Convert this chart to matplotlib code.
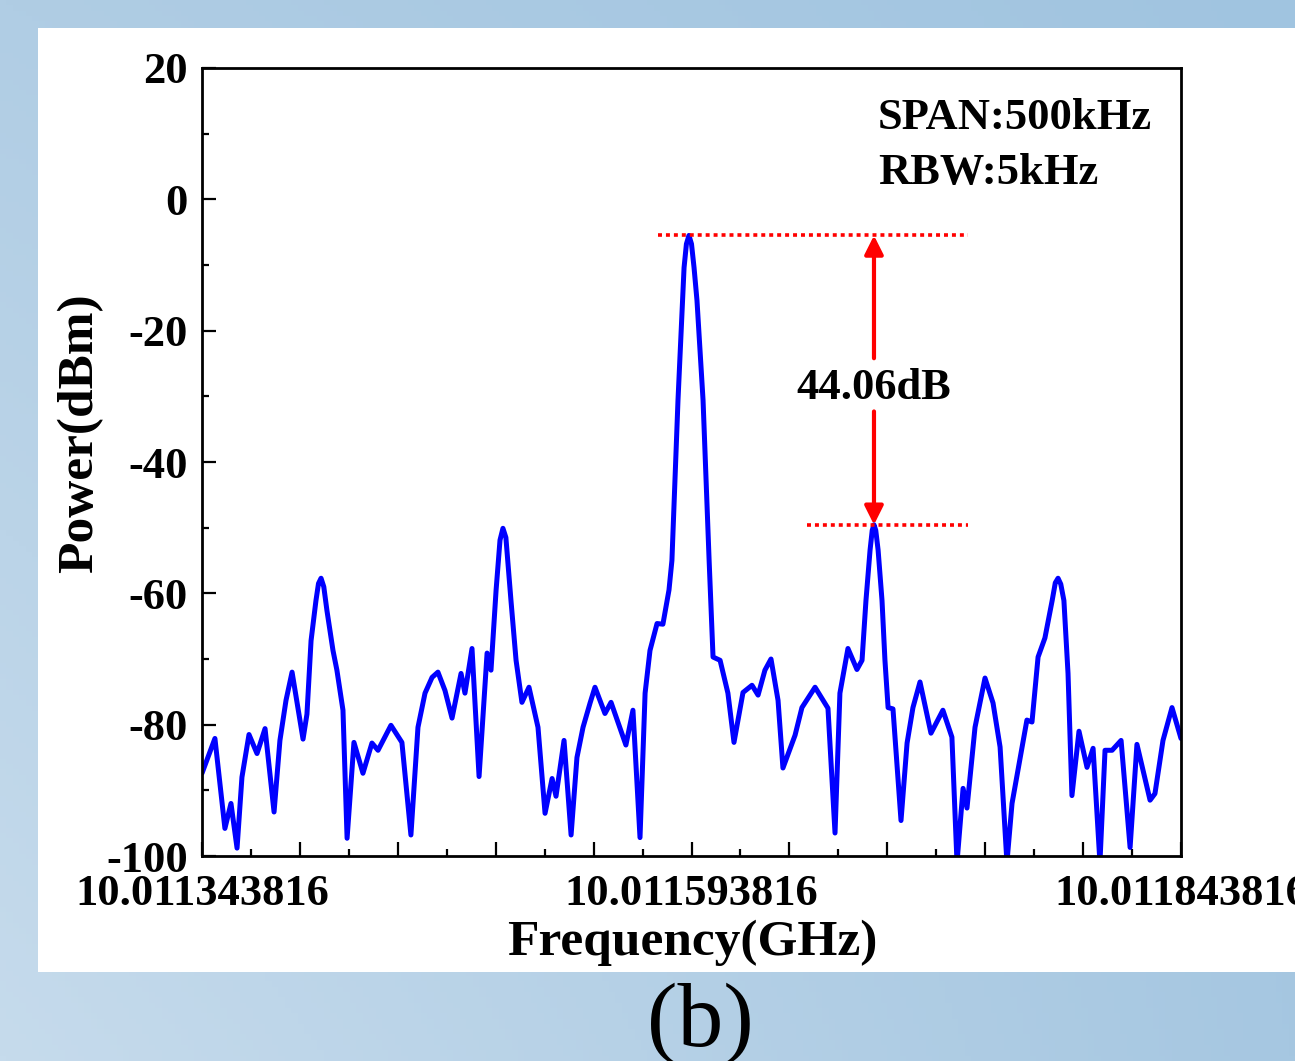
import numpy as np
import matplotlib
matplotlib.use("Agg")
import matplotlib.pyplot as plt
from matplotlib.patches import Rectangle
from matplotlib.ticker import MultipleLocator, FuncFormatter

# ---------------- data ----------------
f_start_ghz = 10.011343816
span_khz = 500.0
freq_offset_khz = [
    0.0, 6.6, 11.7, 14.8, 17.9, 20.4, 24.0, 28.1, 32.2, 36.8, 39.8, 42.9, 46.0,
    51.6, 53.6, 55.7, 58.2, 59.5, 60.8, 62.2, 63.8, 66.9, 68.9, 72.0, 74.1, 77.6,
    82.2, 86.8, 89.9, 96.5, 102.1, 106.7, 110.3, 113.9, 117.5, 120.5, 124.1, 127.7,
    132.3, 134.3, 137.9, 141.5, 145.6, 147.6, 150.2, 152.2, 153.7, 155.2, 157.8,
    160.4, 163.4, 167.0, 171.6, 175.2, 178.8, 180.8, 184.9, 188.5, 191.5, 194.6,
    198.2, 200.7, 205.8, 208.9, 216.5, 220.1, 223.7, 226.3, 228.8, 232.4, 235.4,
    238.5, 240.0, 243.1, 246.2, 247.4, 248.7, 250.0, 251.3, 252.8, 255.9, 259.0,
    261.0, 264.6, 268.6, 271.7, 276.3, 280.9, 284.0, 287.5, 290.6, 294.2, 296.7,
    302.9, 306.4, 313.1, 319.7, 323.3, 325.8, 329.9, 334.5, 337.1, 339.1, 341.2,
    342.3, 343.2, 344.1, 345.3, 347.3, 348.8, 350.4, 352.9, 357.0, 360.1, 363.1,
    366.7, 372.3, 378.4, 383.0, 385.6, 388.7, 390.7, 394.8, 399.9, 404.0, 407.6,
    411.1, 413.7, 421.3, 423.9, 427.0, 430.5, 434.2, 435.8, 437.2, 438.6, 440.2,
    442.3, 444.3, 447.9, 452.0, 455.1, 458.6, 461.2, 464.8, 469.4, 474.0, 477.5,
    484.2, 486.7, 490.8, 495.4, 500.0,
]
power_dbm = [
    -87.4, -82.1, -95.8, -92.0, -98.8, -88.0, -81.5, -84.4, -80.6, -93.3, -82.4, -76.3, -72.0,
    -82.2, -78.4, -67.2, -61.1, -58.5, -57.7, -59.0, -62.6, -68.7, -71.7, -77.8, -97.3, -82.7,
    -87.4, -82.8, -83.9, -80.1, -82.7, -96.8, -80.4, -75.2, -72.8, -72.0, -74.8, -79.0,
    -72.2, -75.2, -68.4, -87.9, -69.1, -71.7, -59.5, -51.9, -50.1, -51.5, -61.1,
    -70.2, -76.6, -74.3, -80.4, -93.5, -88.2, -90.9, -82.4, -96.8, -85.0, -80.4,
    -76.7, -74.3, -78.3, -76.6, -83.1, -77.8, -97.2, -75.2, -68.7, -64.6, -64.7,
    -59.5, -55.0, -30.6, -10.4, -6.8, -5.5, -6.8, -10.4, -15.4, -30.6, -55.0,
    -69.7, -70.2, -75.2, -82.7, -75.1, -74.0, -75.5, -71.7, -70.0, -76.3, -86.6,
    -81.6, -77.4, -74.3, -77.5, -96.5, -75.2, -68.4, -71.6, -70.2, -61.1, -53.4,
    -50.4, -49.56, -50.4, -53.4, -61.1, -70.2, -77.4, -77.6, -94.6, -82.8, -77.4,
    -73.5, -81.3, -77.8, -81.9, -101.0, -89.7, -92.7, -80.4, -72.9, -76.7, -83.4,
    -101.0, -92.0, -79.3, -79.6, -69.7, -66.8, -61.1, -58.4, -57.7, -58.6, -61.1,
    -72.2, -90.8, -81.0, -86.5, -83.6, -101.0, -83.9, -83.9, -82.4, -98.7, -83.0,
    -91.5, -90.5, -82.4, -77.4, -82.1,
]
xtick_label_offsets_khz = [0, 250, 500]
yticks = [-100, -80, -60, -40, -20, 0, 20]
info_lines = ["SPAN:500kHz", "RBW:5kHz"]

# ---------------- style ----------------
plt.rcParams["font.family"] = ["Liberation Serif", "DejaVu Serif"]
plt.rcParams["font.weight"] = "bold"

W, H = 1295, 1061
fig = plt.figure(figsize=(W / 100, H / 100), dpi=100)

# background gradient + white panel
bg = fig.add_axes([0, 0, 1, 1], zorder=0)
tl = np.array([176, 205, 228]) / 255
tr = np.array([160, 196, 224]) / 255
bl = np.array([198, 219, 236]) / 255
br = np.array([166, 199, 225]) / 255
u = np.linspace(0, 1, 200)[None, :, None]
v = np.linspace(0, 1, 200)[:, None, None]
grad = (1 - v) * ((1 - u) * tl + u * tr) + v * ((1 - u) * bl + u * br)
bg.imshow(grad, aspect="auto", extent=[0, 1, 0, 1], origin="upper")
bg.add_patch(Rectangle((38 / W, 1 - 972 / H), (W - 38) / W, (972 - 28) / H,
                       transform=bg.transAxes, facecolor="white", edgecolor="none"))
bg.set_xlim(0, 1)
bg.set_ylim(0, 1)
bg.axis("off")

ax = fig.add_axes([202 / W, 1 - 856 / H, (1181 - 202) / W, (856 - 68) / H], zorder=1)
ax.set_facecolor("white")

ax.plot(freq_offset_khz, power_dbm, color="#0000ff", lw=3.6,
        solid_joinstyle="round", solid_capstyle="round")

ax.set_xlim(0, span_khz)
ax.set_ylim(-100, 20)

ax.xaxis.set_major_locator(MultipleLocator(50))
ax.xaxis.set_minor_locator(MultipleLocator(25))
ax.yaxis.set_minor_locator(MultipleLocator(10))

def xfmt(x, pos):
    if any(abs(x - o) < 1e-6 for o in xtick_label_offsets_khz):
        return f"{f_start_ghz + x * 1e-6:.9f}"
    return ""

ax.xaxis.set_major_formatter(FuncFormatter(xfmt))
ax.set_yticks(yticks)
ax.set_yticklabels([str(t) for t in yticks])

ax.tick_params(axis="both", which="major", direction="in", length=10, width=1.6,
               labelsize=32, top=False, right=False)
ax.tick_params(axis="both", which="minor", direction="in", length=5, width=1.6,
               top=False, right=False)
ax.tick_params(axis="x", which="major", pad=13)
ax.tick_params(axis="y", which="major", pad=10)
for lab in ax.get_xticklabels() + ax.get_yticklabels():
    lab.set_fontweight("bold")
for sp in ax.spines.values():
    sp.set_linewidth(2.0)
    sp.set_color("black")

fig.text(80 / W, 1 - 433 / H, "Power(dBm)", rotation=90, ha="center", va="center",
         fontsize=37, fontweight="bold")
fig.text(692 / W, 1 - 943 / H, "Frequency(GHz)", ha="center", va="center",
         fontsize=37, fontweight="bold")
fig.text(700 / W, 1 - 1024 / H, "(b)", ha="center", va="center",
         fontsize=66, fontweight="normal")

# info text
ax.text((878 - 202) / 979, (856 - 118) / 788, info_lines[0],
        transform=ax.transAxes, ha="left", va="center", fontsize=32, fontweight="bold")
ax.text((878 - 202) / 979, (856 - 173) / 788, info_lines[1],
        transform=ax.transAxes, ha="left", va="center", fontsize=32, fontweight="bold")

# annotation: carrier vs sideband
p = np.array(power_dbm)
f = np.array(freq_offset_khz)
i_main = int(np.argmax(p))
side_mask = f > f[i_main] + 50
i_side = int(np.where(side_mask)[0][np.argmax(p[side_mask])])
top_level = p[i_main]
side_level = p[i_side]
x_arrow = f[i_side]
diff = top_level - side_level

ax.hlines(top_level, f[i_main] - 16.0, 391.2, colors="red", linestyles=(0, (1.1, 1.1)), lw=2.6)
ax.hlines(side_level, f[i_side] - 34.2, 391.2, colors="red", linestyles=(0, (1.1, 1.1)), lw=2.6)

y_text = -28.8
ax.text(x_arrow, y_text, f"{diff:.2f}dB", ha="center", va="center", fontsize=32,
        fontweight="bold")
ax.annotate("", xy=(x_arrow, top_level), xytext=(x_arrow, -24.2),
            arrowprops=dict(arrowstyle="-|>", color="red", lw=3, mutation_scale=28,
                            shrinkA=0, shrinkB=0))
ax.annotate("", xy=(x_arrow, side_level), xytext=(x_arrow, -32.3),
            arrowprops=dict(arrowstyle="-|>", color="red", lw=3, mutation_scale=28,
                            shrinkA=0, shrinkB=0))

fig.savefig("out.png", dpi=100)
